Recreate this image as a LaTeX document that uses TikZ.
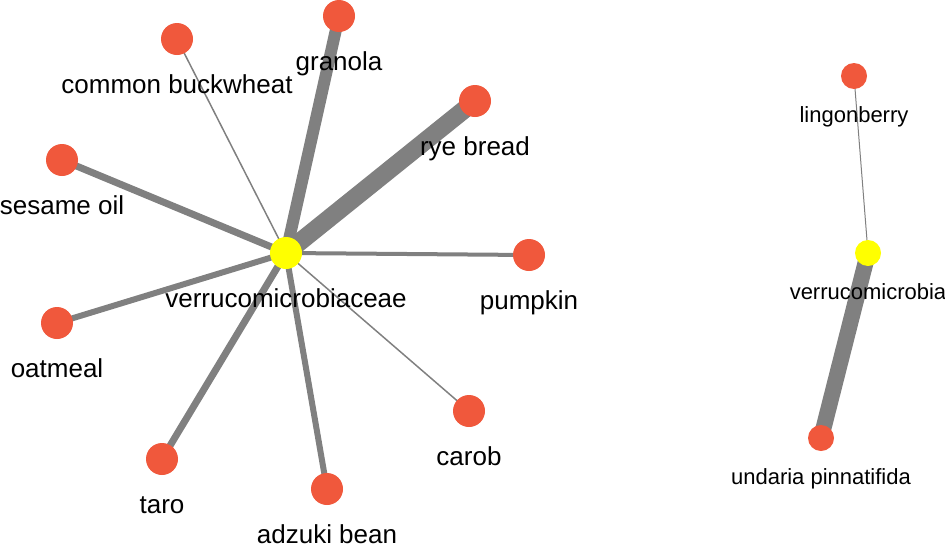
\documentclass[tikz,border=0pt]{standalone}
\usepackage{fontspec}
\setmainfont{Liberation Sans}
\usetikzlibrary{backgrounds}
\definecolor{foodred}{HTML}{F0583C}
\definecolor{taxyellow}{HTML}{FFFF00}
\definecolor{edgegray}{HTML}{808080}

\begin{document}
\begin{tikzpicture}[
        x=1pt, y=-1pt,
        food/.style={circle, fill=foodred, minimum size=32pt, inner sep=0pt,
            label={[anchor=base, yshift=-38pt, font=\fontsize{26}{30}\selectfont]below:#1}},
        taxon/.style={food=#1, fill=taxyellow},
        smallfood/.style={circle, fill=foodred, minimum size=26pt, inner sep=0pt,
            label={[anchor=base, yshift=-33pt, font=\fontsize{22}{26}\selectfont]below:#1}},
        smalltaxon/.style={smallfood=#1, fill=taxyellow},
        link/.style={draw=edgegray, line width=#1}
    ]
    \useasboundingbox (0,0) rectangle (945,544);

    % Family level
    \node[taxon=verrucomicrobiaceae] (family) at (286,253) {};
    \node[food=granola] (granola) at (339,16) {};
    \node[food=common buckwheat] (buckwheat) at (177,39) {};
    \node[food=rye bread] (rye) at (475,101) {};
    \node[food=sesame oil] (sesame) at (62,160) {};
    \node[food=pumpkin] (pumpkin) at (529,255) {};
    \node[food=oatmeal] (oatmeal) at (57,323) {};
    \node[food=carob] (carob) at (469,411) {};
    \node[food=taro] (taro) at (162,459) {};
    \node[food=adzuki bean] (adzuki) at (327,489) {};

    % Phylum level
    \node[smalltaxon=verrucomicrobia] (phylum) at (868,253) {};
    \node[smallfood=lingonberry] (lingon) at (854,76) {};
    \node[smallfood=undaria pinnatifida] (undaria) at (821,438) {};

    % Links
    \begin{scope}[on background layer]
    \draw[link=12pt] (family.center) -- (granola.center);
    \draw[link=1.5pt] (family.center) -- (buckwheat.center);
    \draw[link=18pt] (family.center) -- (rye.center);
    \draw[link=7pt] (family.center) -- (sesame.center);
    \draw[link=4pt] (family.center) -- (pumpkin.center);
    \draw[link=6pt] (family.center) -- (oatmeal.center);
    \draw[link=1.5pt] (family.center) -- (carob.center);
    \draw[link=7pt] (family.center) -- (taro.center);
    \draw[link=6pt] (family.center) -- (adzuki.center);
    \draw[link=1pt] (phylum.center) -- (lingon.center);
    \draw[link=16pt] (phylum.center) -- (undaria.center);
    \end{scope}

\end{tikzpicture}
\end{document}
